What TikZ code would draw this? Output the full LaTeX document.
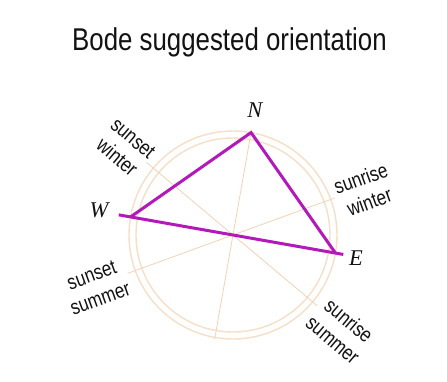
\documentclass[tikz,border=0pt]{standalone}
\usepackage{fontspec}
\setmainfont{Liberation Serif}
\newfontfamily\narrowsans{Liberation Sans}[FakeStretch=0.82]
\usetikzlibrary{positioning}
\definecolor{rimcolor}{RGB}{246,222,200}
\definecolor{raycolor}{RGB}{242,210,182}
\definecolor{walkcolor}{RGB}{178,24,186}
\definecolor{inkcolor}{RGB}{18,18,18}

\begin{document}
\begin{tikzpicture}[
  x=1pt, y=1pt,
  rim/.style={draw=rimcolor, line width=1.4pt},
  ray/.style={draw=raycolor, line width=0.8pt},
  walk/.style={draw=walkcolor, line width=3pt, line join=miter},
  cardinal/.style={font=\fontsize{22.5}{26}\selectfont\itshape, text=inkcolor},
  sunlabel/.style={
    font=\narrowsans\fontsize{21}{25}\selectfont,
    align=center,
    inner sep=0pt,
    text=inkcolor
  },
  heading/.style={font=\narrowsans\fontsize{31.5}{36}\selectfont, inner sep=0pt, text=inkcolor}
]
  \useasboundingbox (-233,-146) rectangle (214,235);

  \node[heading, anchor=base] (title) at (-3.5,185) {Bode suggested orientation};

  \coordinate (ctr) at (0,0);
  \draw[rim] (ctr) circle (104);
  \draw[rim] (ctr) circle (97);

  \coordinate (nn) at (80:104);
  \coordinate (ss) at (260:106);
  \coordinate (ee) at (-10:104);
  \coordinate (ww) at (170:104);
  \coordinate (eetip) at (-10:112);
  \coordinate (wwtip) at (170:116);
  \coordinate (swin) at (140:113);
  \coordinate (rsum) at (-40:110);
  \coordinate (ssum) at (200:112);
  \coordinate (rwin) at (20:108);

  \draw[ray] (nn) -- (ss);
  \draw[ray] (swin) -- (rsum);
  \draw[ray] (ssum) -- (rwin);

  \draw[walk] (wwtip) -- (eetip);
  \draw[walk] (ww) -- (nn) -- (ee);

  \node[cardinal] (nlab) at (22,125) {N};
  \node[cardinal] (wlab) at (-134,25) {W};
  \node[cardinal] (elab) at (123,-23) {E};

  \node[sunlabel, rotate=-40] (swlab) at (-108,87) {sunset\\winter};
  \node[sunlabel, rotate=20] (rwlab) at (132,45) {sunrise\\winter};
  \node[sunlabel, rotate=20] (sslab) at (-137,-52) {sunset\\summer};
  \node[sunlabel, rotate=-40] (rslab) at (108,-95) {sunrise\\summer};
\end{tikzpicture}
\end{document}
